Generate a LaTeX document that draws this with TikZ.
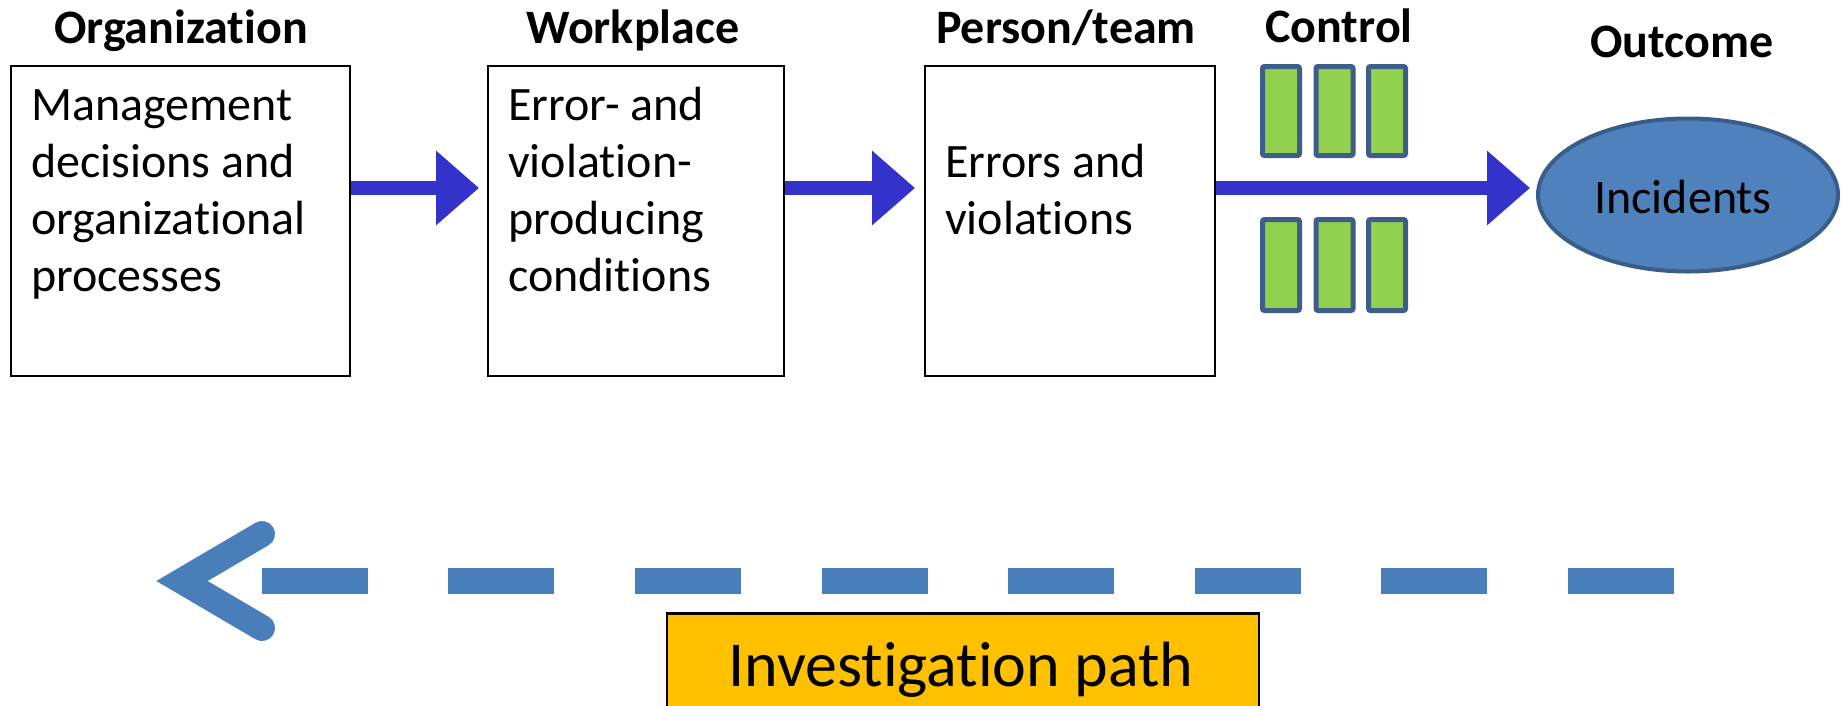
\documentclass[tikz,border=0pt]{standalone}
\usepackage{fontspec}
\setmainfont{Carlito}[Ligatures={NoCommon}]
\usetikzlibrary{arrows.meta,shapes.geometric,calc}
\definecolor{arrowblue}{RGB}{51,51,204}
\definecolor{barfill}{RGB}{146,208,80}
\definecolor{barline}{RGB}{62,94,138}
\definecolor{ellfill}{RGB}{79,129,189}
\definecolor{ellline}{RGB}{56,93,138}
\definecolor{dashblue}{RGB}{74,126,187}
\definecolor{invfill}{RGB}{255,192,0}
\newcommand{\stacklines}[1]{\vtop{#1}}
\begin{document}
\begin{tikzpicture}[x=1pt,y=-1pt,
  titletext/.style={font=\fontsize{48}{56}\selectfont\bfseries, anchor=base, inner sep=0pt},
  bodytext/.style={font=\fontsize{48}{57.3}\selectfont, anchor=base west, inner sep=0pt},
  stagebox/.style={draw=black, line width=2pt, fill=white, minimum height=310pt, inner sep=0pt, minimum width=#1},
  blockarrow/.style={draw=arrowblue, line width=14pt, -{Triangle[length=43pt,width=72pt]}},
  ctrlbar/.style={draw=barline, fill=barfill, line width=5pt, rounded corners=2pt, minimum width=37pt, inner sep=0pt},
  outcome/.style={ellipse, draw=ellline, fill=ellfill, line width=4pt, minimum width=300pt, minimum height=153pt, inner sep=0pt, font=\fontsize{48}{56}\selectfont},
  invline/.style={draw=dashblue, line width=26pt, dash pattern=on 106pt off 80.6pt},
  invhead/.style={draw=dashblue, line width=26pt, line cap=round, line join=miter},
  invbox/.style={draw=black, line width=2.5pt, fill=invfill, inner sep=0pt}
]
\useasboundingbox (0,0) rectangle (1841,705);
\clip (0,0) rectangle (1841,705);

% titles
\node[titletext] (tOrg) at (181,43) {Organization};
\node[titletext] (tWork) at (633,43) {Workplace};
\node[titletext] (tPers) at (1066,43) {Person/team};
\node[titletext] (tCtrl) at (1339,42) {Control};
\node[titletext] (tOut) at (1682,57) {Outcome};

% stage boxes
\node[stagebox=339pt] (b1) at (180.5,221) {};
\node[stagebox=296pt] (b2) at (636,220.5) {};
\node[stagebox=290pt] (b3) at (1070,220.5) {};

% box texts
\node[bodytext] (x1) at (31,120) {\stacklines{\hbox{Management}\hbox{decisions and}\hbox{organizational}\hbox{processes}}};
\node[bodytext] (x2) at (508,120) {\stacklines{\hbox{Error- and}\hbox{violation-}\hbox{producing}\hbox{conditions}}};
\node[bodytext] (x3) at (945,177) {\stacklines{\hbox{Errors and}\hbox{violations}}};

% outcome
\node[outcome] (inc) at (1688,195) {};
\node[font=\fontsize{48}{56}\selectfont, inner sep=0pt] (inct) at (1683,197) {Incidents};

% control bars
\node[ctrlbar, minimum height=89pt] (c1) at (1281,111) {};
\node[ctrlbar, minimum height=89pt] (c2) at (1334.5,111) {};
\node[ctrlbar, minimum height=89pt] (c3) at (1387,111) {};
\node[ctrlbar, minimum height=91pt] (c4) at (1281,265) {};
\node[ctrlbar, minimum height=91pt] (c5) at (1334.5,265) {};
\node[ctrlbar, minimum height=91pt] (c6) at (1387,265) {};

% block arrows
\coordinate (a1) at (b1.east |- 0,188);
\coordinate (a2) at (b2.east |- 0,188);
\coordinate (a3) at (b3.east |- 0,188);
\draw[blockarrow, shorten >=8pt] (a1) -- (a1 -| b2.west);
\draw[blockarrow, shorten >=9pt] (a2) -- (a2 -| b3.west);
\draw[blockarrow, shorten >=6pt] (a3) -- (a3 -| inc.west);

% investigation path
\coordinate (dR) at (1674,581);
\coordinate (dL) at (262,581);
\coordinate (hTop) at (262,534);
\coordinate (hTip) at (182,581);
\coordinate (hBot) at (262,628);
\draw[invline] (dR) -- (dL);
\draw[invhead] (hTop) -- (hTip) -- (hBot);

\node[invbox, minimum width=592pt, minimum height=130pt, anchor=north] (inv) at (963,612) {};
\node[font=\fontsize{64}{76}\selectfont, anchor=base, inner sep=0pt] (invt) at (961,686) {Investigation path};
\end{tikzpicture}
\end{document}
